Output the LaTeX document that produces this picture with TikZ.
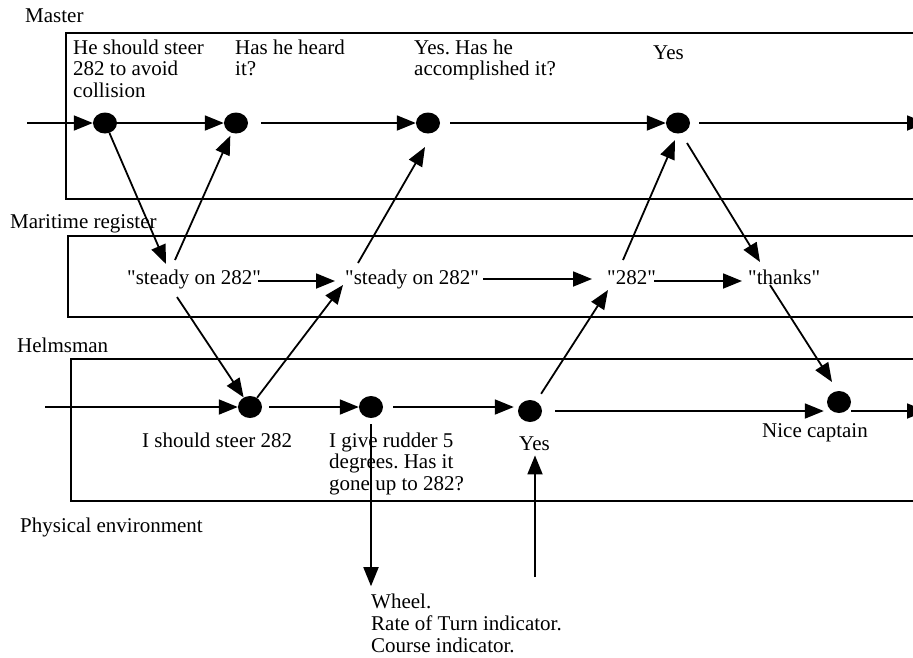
\documentclass[tikz,border=0pt]{standalone}
\usepackage{fontspec}
\setmainfont{Liberation Serif}[Ligatures=TeXOff]
\frenchspacing
\usetikzlibrary{arrows.meta,shapes.geometric}
\begin{document}
\begin{tikzpicture}[x=1pt,y=-1pt,
  lane/.style={line width=1.8pt},
  arr/.style={line width=1.8pt,-{Triangle[length=19pt,width=15pt]}},
  dot/.style={ellipse,fill=black,minimum width=24pt,minimum height=21pt,inner sep=0pt},
  hdot/.style={dot,minimum height=22pt},
  txt/.style={anchor=base west,inner sep=0pt,align=left,font=\fontsize{21pt}{21.5pt}\selectfont},
]
\fill[white] (0,0) rectangle (913,657);
\useasboundingbox (0,0) rectangle (913,657);

% lanes
\draw[lane] (66,33) rectangle (960,199);
\draw[lane] (68,236) rectangle (960,317);
\draw[lane] (71,359) rectangle (960,501);

% lane labels
\node[txt] (lmaster) at (25,22) {Master};
\node[txt] (lreg) at (10,228) {Maritime register};
\node[txt] (lhelm) at (17,352) {Helmsman};
\node[txt] (lphys) at (20,532) {Physical environment};

% master (multi-line texts are placed by their last baseline)
\node[dot] (m1) at (105,123) {};
\node[dot] (m2) at (236,123) {};
\node[dot] (m3) at (428,123) {};
\node[dot] (m4) at (678,123) {};
\node[txt] (tm1) at (73,97) {He should steer\\282 to avoid\\collision};
\node[txt] (tm2) at (235,75.5) {Has he heard\\it?};
\node[txt] (tm3) at (414,75.5) {Yes. Has he\\accomplished it?};
\node[txt] (tm4) at (653,59) {Yes};

% maritime register
\node[txt] (r1) at (127,284) {"steady on 282"};
\node[txt] (r2) at (345,284) {"steady on 282"};
\node[txt] (r3) at (607,284) {"282"};
\node[txt] (r4) at (748,284) {"thanks"};

% helmsman
\node[hdot] (h1) at (250,407) {};
\node[hdot] (h2) at (371,407) {};
\node[hdot] (h3) at (530,411) {};
\node[hdot] (h4) at (839,402) {};
\node[txt] (th1) at (142,447) {I should steer 282};
\node[txt] (th2) at (329,490) {I give rudder 5\\degrees. Has it\\gone up to 282?};
\node[txt] (th3) at (519,450) {Yes};
\node[txt] (th4) at (762,437) {Nice captain};

% physical environment
\node[txt,font=\fontsize{21pt}{22pt}\selectfont] (env) at (371,652)
  {Wheel.\\Rate of Turn indicator.\\Course indicator.};

\coordinate (min) at (27,123);
\coordinate (mout) at (926,123);
\coordinate (hin) at (45,407);
\coordinate (hout) at (926,411);
\coordinate (sense) at (535,577);

% master time line
\draw[arr] (min) -- (m1);
\draw[arr] (m1) -- (m2);
\draw[arr,shorten <=13pt] (m2) -- (m3);
\draw[arr,shorten <=10pt] (m3) -- (m4);
\draw[arr,shorten <=9pt] (m4) -- (mout);

% register time line
\draw[arr] ([shift={(-3,-3)}]r1.base east) -- ([shift={(-10,-3)}]r2.base west);
\draw[arr] ([shift={(4,-5)}]r2.base east) -- ([shift={(-15,-5)}]r3.base west);
\draw[arr] ([shift={(-2,-3)}]r3.base east) -- ([shift={(-6,-3)}]r4.base west);

% helmsman time line
\draw[arr] (hin) -- (h1);
\draw[arr,shorten <=7pt] (h1) -- (h2);
\draw[arr,shorten <=10pt,shorten >=4pt] (h2.east) -- (h2.east -| h3.west);
\draw[arr,shorten <=13pt,shorten >=3pt] (h3.east) -- (h3.east -| h4.west);
\draw[arr] (h3.east -| h4.east) -- (hout);

% messages between lanes
\draw[arr] (m1.-66) -- ([shift={(39,-20)}]r1.base west);
\draw[arr,shorten >=3pt] ([shift={(48,-24)}]r1.base west) -- (m2);
\draw[arr] ([shift={(50,13)}]r1.base west) -- (h1);
\draw[arr] (h1) -- ([shift={(-2,1)}]r2.base west);
\draw[arr] ([shift={(13,-21)}]r2.base west) -- ([shift={(-3,24)}]m3.center);
\draw[arr,shorten <=9pt] (h3) -- ([shift={(1,6)}]r3.base west);
\draw[arr] ([shift={(16,-24)}]r3.base west) -- ([shift={(-3,17)}]m4.center);
\draw[arr] ([shift={(9,20)}]m4.center) -- ([shift={(12,-22)}]r4.base west);
\draw[arr] ([shift={(22,1)}]r4.base west) -- ([shift={(-7,-20)}]h4.center);

% physical environment links
\draw[arr,shorten <=6pt,shorten >=7pt] (h2) -- (h2 |- env.north);
\draw[arr,shorten >=5pt] (sense) -- (sense |- th3.south);
\end{tikzpicture}
\end{document}
